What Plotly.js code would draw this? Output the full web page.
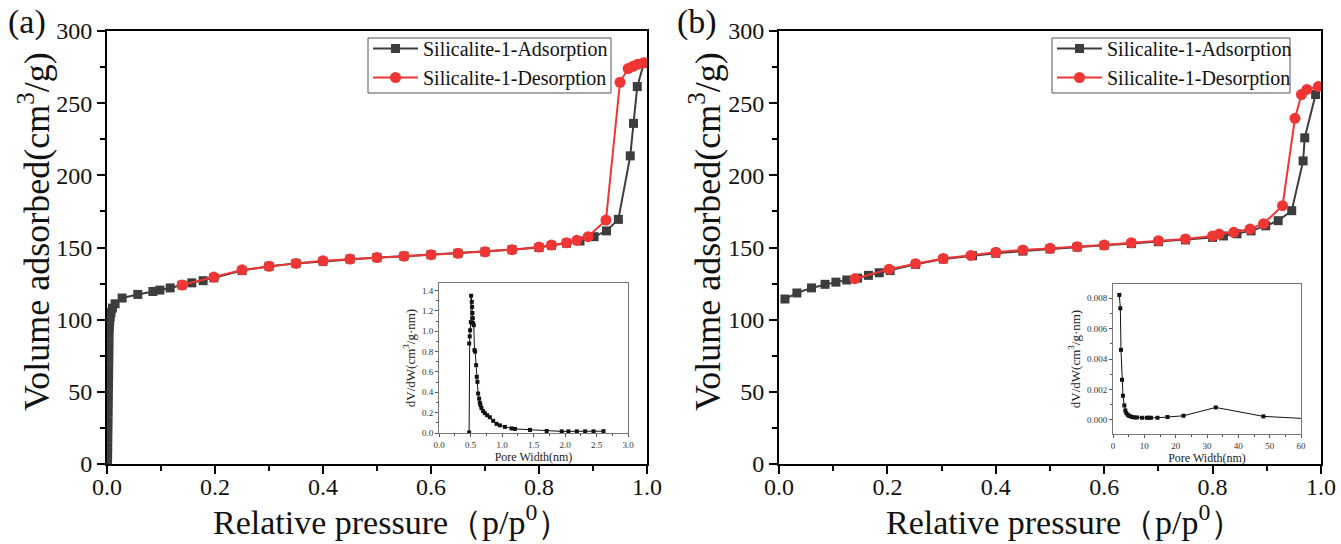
<!DOCTYPE html>
<html>
<head>
<meta charset="utf-8">
<script src="https://cdn.plot.ly/plotly-3.0.1.min.js"></script>
<style>html,body{margin:0;padding:0;background:#fff;}#chart{width:1341px;height:544px;}</style>
</head>
<body>
<div id="chart"></div>
<script>
// ---------- Panel (a) isotherm ----------
const adsA_p = [0.0010, 0.0012, 0.0014, 0.0016, 0.0018, 0.0020, 0.0022, 0.0024, 0.0026, 0.0028, 0.0030, 0.0032,
  0.0034, 0.0036, 0.0038, 0.0040, 0.0045, 0.0050, 0.0060, 0.0075, 0.010, 0.015,
  0.028, 0.057, 0.085, 0.098, 0.117, 0.139, 0.157, 0.178, 0.198, 0.25, 0.30, 0.35, 0.40, 0.45, 0.50, 0.55, 0.60,
  0.65, 0.70, 0.75, 0.80, 0.823, 0.851, 0.876, 0.902, 0.925, 0.947, 0.969, 0.975, 0.982, 0.994];
const adsA_V = [0, 6, 12, 18, 24, 30, 36, 42, 48, 54, 60, 66,
  72, 78, 84, 90, 95, 99, 102, 105, 108, 111,
  115, 117.5, 119.5, 120.5, 122, 124, 125.5, 127, 129, 134, 137, 139, 140.5, 142, 143, 144, 145,
  146, 147, 148.5, 150, 151.5, 153, 154.5, 157.5, 161.5, 169.5, 213.5, 236, 261.5, 277.5];
const desA_p = [0.994, 0.983, 0.974, 0.965, 0.95, 0.924, 0.891, 0.87, 0.851, 0.823, 0.80, 0.75, 0.70, 0.65,
  0.60, 0.55, 0.50, 0.45, 0.40, 0.35, 0.30, 0.25, 0.198, 0.139];
const desA_V = [278, 277, 275.5, 274, 264.5, 169, 157.5, 155, 153.3, 151.7, 150.3, 148.5, 147, 146,
  145, 144, 143, 142, 140.8, 139, 137, 134.5, 129.5, 124];

// ---------- Panel (b) isotherm ----------
const adsB_p = [0.011, 0.033, 0.060, 0.085, 0.105, 0.125, 0.145, 0.165, 0.185, 0.205, 0.252, 0.303, 0.357,
  0.40, 0.45, 0.50, 0.55, 0.60, 0.65, 0.70, 0.75, 0.80, 0.82, 0.845, 0.871, 0.898, 0.921, 0.946, 0.967, 0.970, 0.990];
const adsB_V = [114.3, 118.5, 122, 124.5, 126, 127.5, 128.8, 130.7, 132.5, 134, 138.3, 142, 144.3,
  146, 147.5, 149, 150.3, 151.5, 152.7, 154, 155.3, 157, 158, 159.5, 161.5, 165, 168.6, 175.5, 210, 226, 256];
const desB_p = [0.995, 0.974, 0.964, 0.952, 0.929, 0.894, 0.869, 0.839, 0.812, 0.80, 0.75, 0.70, 0.65, 0.60,
  0.55, 0.50, 0.45, 0.40, 0.354, 0.303, 0.252, 0.203, 0.140];
const desB_V = [261.5, 259.5, 256, 239.5, 179, 166.5, 162.8, 160.5, 159.3, 158, 155.9, 154.7, 153.3, 151.7,
  150.6, 149.4, 148.3, 146.7, 144.5, 142.3, 138.8, 135, 128.4];

// ---------- Insets: pore size distribution ----------
const poreA_w = [0.478, 0.479, 0.488, 0.494, 0.505, 0.51, 0.521, 0.526, 0.531, 0.536, 0.541, 0.552, 0.563, 0.573,
  0.589, 0.60, 0.61, 0.621, 0.637, 0.648, 0.658, 0.674, 0.70, 0.727, 0.764, 0.807, 0.86, 0.913, 0.966, 1.046,
  1.152, 1.205, 1.444, 1.709, 1.948, 2.054, 2.187, 2.32, 2.452, 2.611];
const poreA_dv = [0.005, 0.88, 0.95, 1.01, 1.09, 1.35, 1.29, 1.24, 1.18, 1.13, 1.08, 1.06, 0.815, 0.80,
  0.667, 0.552, 0.503, 0.388, 0.338, 0.296, 0.273, 0.245, 0.215, 0.195, 0.175, 0.155, 0.12, 0.09, 0.075, 0.06,
  0.045, 0.04, 0.03, 0.02, 0.016, 0.016, 0.016, 0.016, 0.016, 0.018];
const poreB_w = [2.02, 2.34, 2.55, 2.87, 3.18, 3.61, 3.93, 4.25, 4.67, 5.1, 5.63, 6.16, 6.8, 7.64, 9.24, 10.8,
  11.4, 12.1, 14.2, 17.4, 22.5, 32.8, 48.0, 62];
const poreB_dv = [0.00822, 0.00734, 0.0046, 0.00263, 0.00158, 0.00094, 0.00061, 0.00044, 0.00033, 0.00026,
  0.00022, 0.00018, 0.00015, 0.00015, 0.00013, 0.00013, 0.00013, 0.00013, 0.00013, 0.00018, 0.00026, 0.00081,
  0.00022, 0.00007];

const seriesNames = ['Silicalite-1-Adsorption', 'Silicalite-1-Desorption'];
const panelLabels = ['(a)', '(b)'];
const yTitle = 'Volume adsorbed(cm<sup>3</sup>/g)';
const xTitle = 'Relative pressure（p/p<sup>0</sup>）';

const SERIF = 'Liberation Serif, serif';
const GRAY = '#3d3d3d', RED = '#f03535';

function ads(x, y, xa, ya, leg) {
  return {x: x, y: y, xaxis: xa, yaxis: ya, legend: leg, name: seriesNames[0], type: 'scatter', mode: 'lines+markers',
    line: {color: GRAY, width: 2}, marker: {symbol: 'square', size: 9, color: GRAY}};
}
function des(x, y, xa, ya, leg) {
  return {x: x, y: y, xaxis: xa, yaxis: ya, legend: leg, name: seriesNames[1], type: 'scatter', mode: 'lines+markers',
    line: {color: RED, width: 2}, marker: {symbol: 'circle', size: 11, color: RED}};
}
function pore(x, y, xa, ya) {
  return {x: x, y: y, xaxis: xa, yaxis: ya, type: 'scatter', mode: 'lines+markers', showlegend: false,
    line: {color: '#111', width: 1}, marker: {symbol: 'square', size: 4, color: '#111'}};
}

const data = [
  ads(adsA_p, adsA_V, 'x', 'y', 'legend'),
  des(desA_p, desA_V, 'x', 'y', 'legend'),
  ads(adsB_p, adsB_V, 'x2', 'y2', 'legend2'),
  des(desB_p, desB_V, 'x2', 'y2', 'legend2'),
  pore(poreA_w, poreA_dv, 'x3', 'y3'),
  pore(poreB_w, poreB_dv, 'x4', 'y4')
];

const W = 1341, H = 544;
const dom = (a, b) => [a / W, b / W];
const vdom = (top, bot) => [(H - bot) / H, (H - top) / H];

function mainX(domain, anchor) {
  return {domain: domain, anchor: anchor, range: [0, 1], dtick: 0.2, tick0: 0, tickformat: '.1f',
    showline: true, linecolor: '#000', linewidth: 2, mirror: true, ticks: 'outside', ticklen: 8, tickwidth: 2,
    tickcolor: '#000', showgrid: false, zeroline: false, ticklabelstandoff: -8,
    minor: {dtick: 0.1, ticks: 'outside', ticklen: 5, tickwidth: 2, tickcolor: '#000', showgrid: false},
    tickfont: {family: SERIF, size: 24, color: '#111'}};
}
function mainY(domain, anchor) {
  return {domain: domain, anchor: anchor, range: [0, 300], dtick: 50, tick0: 0,
    showline: true, linecolor: '#000', linewidth: 2, mirror: true, ticks: 'outside', ticklen: 8, tickwidth: 2,
    tickcolor: '#000', showgrid: false, zeroline: false,
    minor: {dtick: 25, ticks: 'outside', ticklen: 5, tickwidth: 2, tickcolor: '#000', showgrid: false},
    tickfont: {family: SERIF, size: 24, color: '#111'}};
}
function insetX(domain, anchor, range, dtick, fmt, minorD) {
  return {domain: domain, anchor: anchor, range: range, dtick: dtick, tick0: 0, tickformat: fmt,
    showline: true, linecolor: '#777', linewidth: 1, mirror: true, ticks: 'outside', ticklen: 3, tickwidth: 1,
    tickcolor: '#555', showgrid: false, zeroline: false,
    minor: {dtick: minorD, ticks: 'outside', ticklen: 2, tickwidth: 1, tickcolor: '#555', showgrid: false},
    tickfont: {family: SERIF, size: 9, color: '#333'},
    title: {text: 'Pore Width(nm)', font: {family: SERIF, size: 12, color: '#222'}, standoff: 2}};
}
function insetY(domain, anchor, range, dtick, fmt, minorD) {
  return {domain: domain, anchor: anchor, range: range, dtick: dtick, tick0: 0, tickformat: fmt,
    showline: true, linecolor: '#777', linewidth: 1, mirror: true, ticks: 'outside', ticklen: 3, tickwidth: 1,
    tickcolor: '#555', showgrid: false, zeroline: false,
    minor: {dtick: minorD, ticks: 'outside', ticklen: 2, tickwidth: 1, tickcolor: '#555', showgrid: false},
    tickfont: {family: SERIF, size: 9, color: '#333'},
    title: {text: 'dV/dW(cm<sup>3</sup>/g·nm)', font: {family: SERIF, size: 13, color: '#222'}, standoff: 3}};
}
function legendBox(xpx) {
  return {x: xpx / W, y: (H - 29) / H, xanchor: 'left', yanchor: 'top', bgcolor: 'rgba(255,255,255,0)',
    borderwidth: 0, font: {family: SERIF, size: 20, color: '#111'}, itemwidth: 45, tracegroupgap: 0};
}
function legendFrame(x0, x1) {
  return {type: 'rect', xref: 'paper', yref: 'paper', x0: x0 / W, x1: x1 / W, y0: (H - 93) / H, y1: (H - 38) / H,
    line: {color: '#555', width: 1}, fillcolor: '#fff', layer: 'below'};
}
function label(text, xpx, ypx, size, angle) {
  return {text: text, xref: 'paper', yref: 'paper', x: xpx / W, y: (H - ypx) / H, showarrow: false,
    xanchor: 'center', yanchor: 'middle', textangle: angle, font: {family: SERIF, size: size, color: '#111'}};
}

const layout = {
  width: W, height: H, margin: {l: 0, r: 0, t: 0, b: 0}, paper_bgcolor: '#fff', plot_bgcolor: 'rgba(0,0,0,0)',
  font: {family: SERIF, color: '#111'},
  xaxis: mainX(dom(107, 647), 'y'),
  yaxis: mainY(vdom(31, 464), 'x'),
  xaxis2: mainX(dom(779, 1321), 'y2'),
  yaxis2: mainY(vdom(31, 464), 'x2'),
  xaxis3: insetX(dom(439, 628), 'y3', [0, 3], 0.5, '.1f', 0.25),
  yaxis3: insetY(vdom(283, 433), 'x3', [0, 1.475], 0.2, '.1f', 0.1),
  xaxis4: insetX(dom(1113, 1301), 'y4', [0, 60], 10, 'd', 5),
  yaxis4: insetY(vdom(284, 434), 'x4', [-0.00094, 0.00894], 0.002, '.3f', 0.001),
  legend: legendBox(368),
  legend2: legendBox(1052),
  shapes: [legendFrame(368, 611), legendFrame(1052, 1290)],
  annotations: [
    label(panelLabels[0], 27, 22, 34, 0),
    label(panelLabels[1], 697, 22, 34, 0),
    label(yTitle, 34, 232, 36, -90),
    label(yTitle, 705, 232, 36, -90),
    label(xTitle, 392, 520, 34, 0),
    label(xTitle, 1065, 520, 34, 0)
  ],
  showlegend: true
};

Plotly.newPlot('chart', data, layout, {staticPlot: true, displayModeBar: false});
</script>
</body>
</html>
